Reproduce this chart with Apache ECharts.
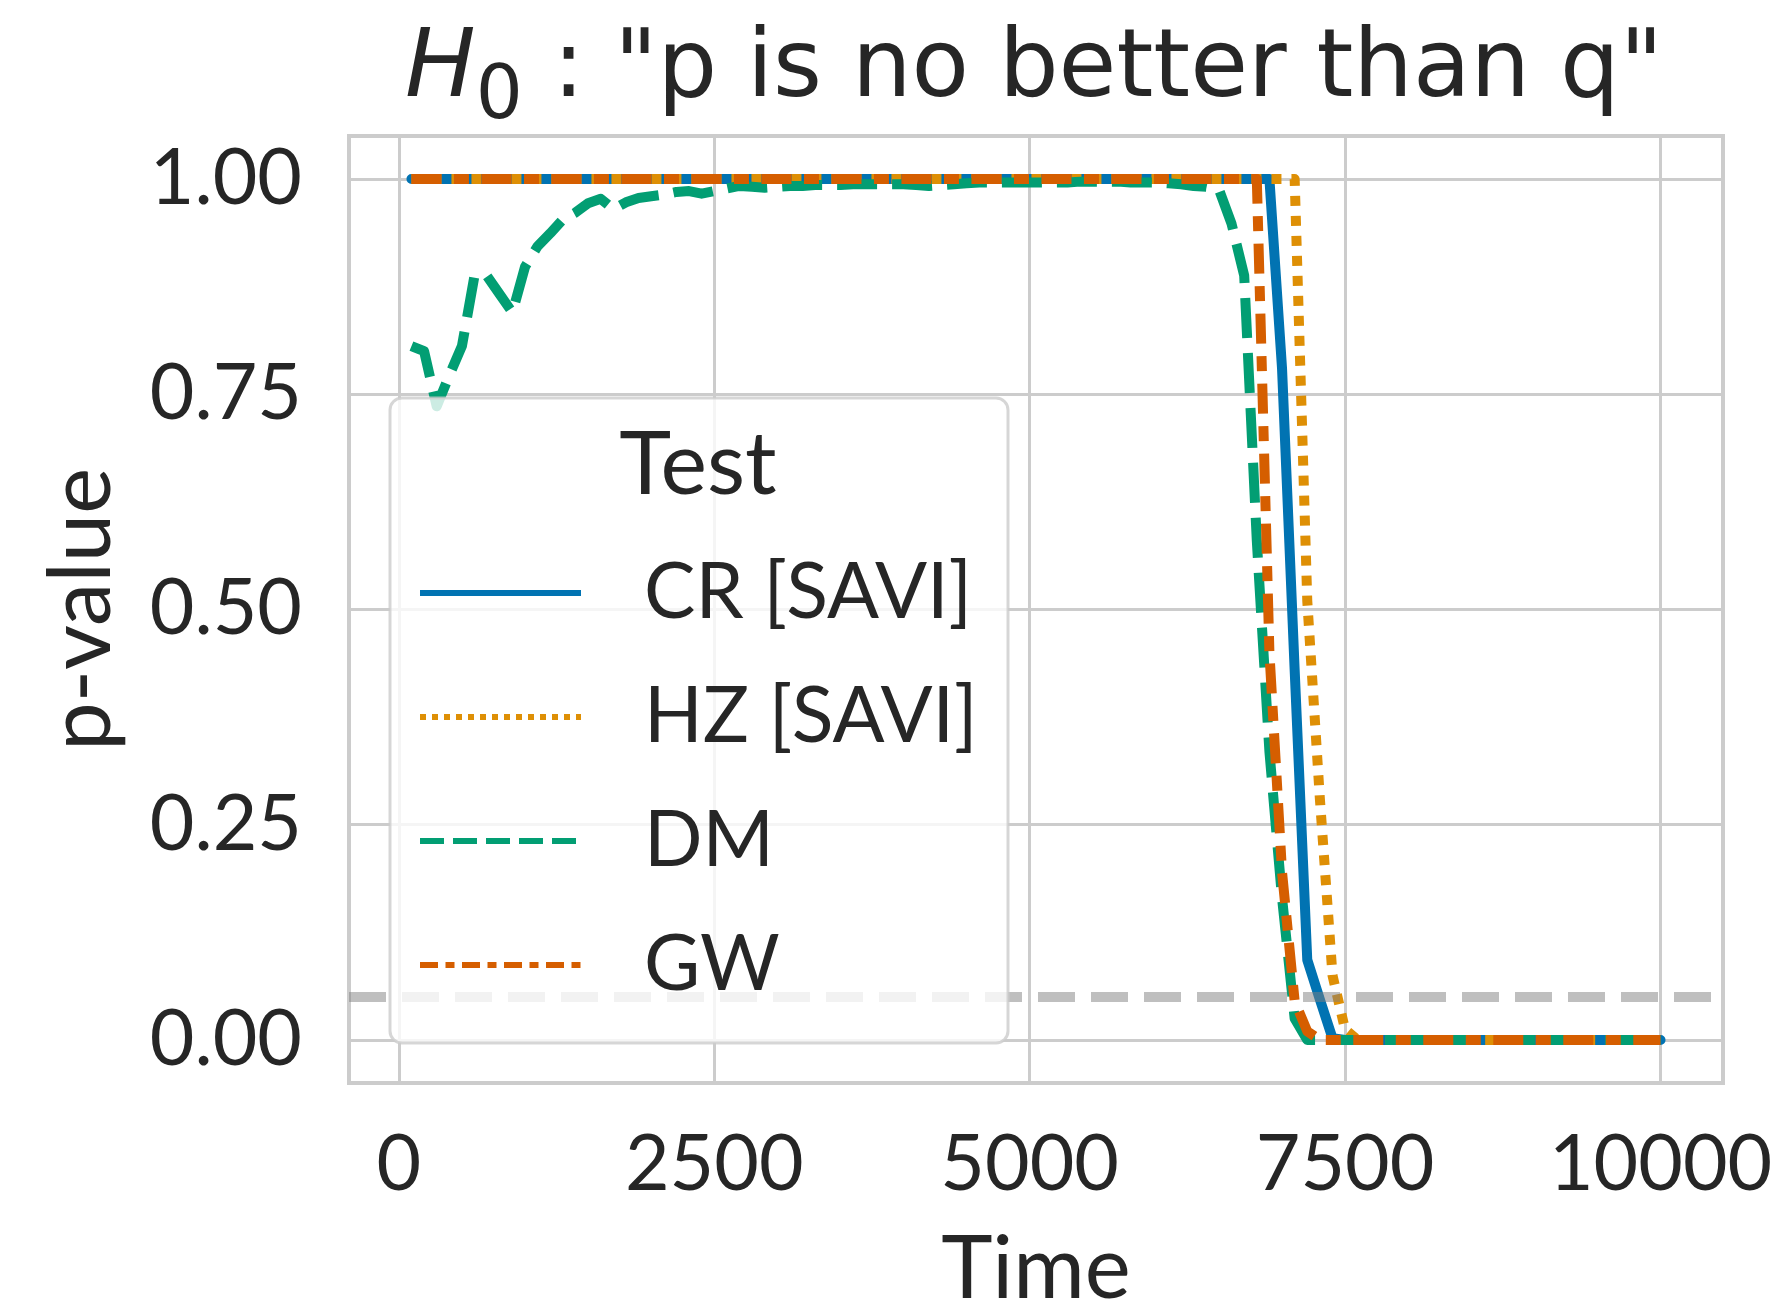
<!DOCTYPE html>
<html>
<head>
<meta charset="utf-8">
<script src="https://cdn.jsdelivr.net/npm/echarts@6/dist/echarts.min.js"></script>
<style>
html,body{margin:0;padding:0;background:#fff;}
#chart{width:1788px;height:1303px;}
</style>
</head>
<body>
<div id="chart"></div>
<script>
// ---- data ----
const times = [100,200,300,400,500,600,700,800,900,1000,1100,1200,1300,1400,1500,1600,1700,1800,1900,2000,
2100,2200,2300,2400,2500,2600,2700,2800,2900,3000,3100,3200,3300,3400,3500,3600,3700,3800,3900,4000,
4100,4200,4300,4400,4500,4600,4700,4800,4900,5000,5100,5200,5300,5400,5500,5600,5700,5800,5900,6000,
6100,6200,6300,6400,6500,6600,6700,6800,6900,7000,7100,7200,7300,7400,7500,7600,7700,7800,7900,8000,
8100,8200,8300,8400,8500,8600,8700,8800,8900,9000,9100,9200,9300,9400,9500,9600,9700,9800,9900,10000];

const crValues = [1,1,1,1,1,1,1,1,1,1, 1,1,1,1,1,1,1,1,1,1,
1,1,1,1,1,1,1,1,1,1, 1,1,1,1,1,1,1,1,1,1,
1,1,1,1,1,1,1,1,1,1, 1,1,1,1,1,1,1,1,1,1,
1,1,1,1,1,1,1,1,1,0.78, 0.43,0.093,0.047,0.002,0,0,0,0,0,0,
0,0,0,0,0,0,0,0,0,0, 0,0,0,0,0,0,0,0,0,0];

const hzValues = [1,1,1,1,1,1,1,1,1,1, 1,1,1,1,1,1,1,1,1,1,
1,1,1,1,1,1,1,1,1,1, 1,1,1,1,1,1,1,1,1,1,
1,1,1,1,1,1,1,1,1,1, 1,1,1,1,1,1,1,1,1,1,
1,1,1,1,1,1,1,1,1,1, 1,0.51,0.28,0.075,0.012,0,0,0,0,0,
0,0,0,0,0,0,0,0,0,0, 0,0,0,0,0,0,0,0,0,0];

const dmValues = [0.806,0.800,0.736,0.772,0.806,0.888,0.887,0.866,0.845,0.898,
0.922,0.937,0.953,0.961,0.972,0.977,0.965,0.973,0.978,0.980,
0.982,0.985,0.986,0.983,0.986,0.989,0.992,0.991,0.990,0.991,
0.992,0.992,0.993,0.993,0.993,0.994,0.994,0.994,0.994,0.994,
0.993,0.992,0.993,0.994,0.995,0.996,0.996,0.996,0.996,0.996,
0.996,0.996,0.996,0.997,0.997,0.997,0.997,0.996,0.996,0.996,
0.995,0.994,0.992,0.991,0.988,0.948,0.888,0.58,0.335,0.165,
0.025,0,0,0,0,0,0,0,0,0, 0,0,0,0,0,0,0,0,0,0, 0,0,0,0,0,0,0,0,0,0];

const gwValues = [1,1,1,1,1,1,1,1,1,1, 1,1,1,1,1,1,1,1,1,1,
1,1,1,1,1,1,1,1,1,1, 1,1,1,1,1,1,1,1,1,1,
1,1,1,1,1,1,1,1,1,1, 1,1,1,1,1,1,1,1,1,1,
1,1,1,1,1,1,1,1,0.45,0.195, 0.045,0.01,0,0,0,0,0,0,0,0,
0,0,0,0,0,0,0,0,0,0, 0,0,0,0,0,0,0,0,0,0];

const seriesNames = ['CR [SAVI]','HZ [SAVI]','DM','GW'];
const xTicks = [0,2500,5000,7500,10000];
const yTicks = [0,0.25,0.5,0.75,1.0];
const threshold = 0.05;

// ---- styles ----
const FONT = 'Lato';
const TITLE_FONT = 'DejaVu Sans';
const TXT = '#262626';
const colors = ['#0173b2','#de8f05','#029e73','#d55e00'];
const mainDash = ['solid',[10,10],[40,15],[30,12.5,15,12.5]];
const legendDash = ['solid',[6,6],[24,9],[18,7.5,9,7.5]];
const allValues = [crValues,hzValues,dmValues,gwValues];

const series = seriesNames.map((n,i)=>({
  name:n, type:'line', symbol:'none', z:2,
  data: times.map((t,k)=>[t, allValues[i][k]]),
  lineStyle:{color:colors[i], width:10, type:mainDash[i], cap: i===0?'round':'butt', join:'round'},
  itemStyle:{color:colors[i]},
  emphasis:{disabled:true}, animation:false
}));
series.push({
  type:'line', data:[], symbol:'none', z:3, animation:false, silent:true,
  markLine:{symbol:'none', silent:true, label:{show:false},
    lineStyle:{color:'rgba(128,128,128,0.5)', width:10, type:[37,16]},
    data:[{yAxis:threshold}], animation:false}
});

const chart = echarts.init(document.getElementById('chart'), null, {renderer:'canvas'});
chart.setOption({
  backgroundColor:'#fff',
  animation:false,
  textStyle:{fontFamily:FONT},
  title:{
    left:405, top:8, padding:0,
    text:'{h|H}{s|0}{n| : "p is no better than q"}',
    textStyle:{
      fontWeight:'normal',
      rich:{
        h:{fontFamily:TITLE_FONT, fontStyle:'italic', fontWeight:'normal', fontSize:94, color:TXT, lineHeight:128, verticalAlign:'middle'},
        s:{fontFamily:TITLE_FONT, fontWeight:'normal', fontSize:74, color:TXT, lineHeight:72, verticalAlign:'bottom'},
        n:{fontFamily:TITLE_FONT, fontWeight:'normal', fontSize:94, color:TXT, lineHeight:128, verticalAlign:'middle'}
      }
    }
  },
  grid:{left:349, top:136, width:1374, height:947, show:true, borderColor:'#cccccc', borderWidth:4,
        backgroundColor:'transparent', containLabel:false, outerBoundsMode:'none'},
  xAxis:{
    type:'value', min:-395, max:10495,
    name:'Time', nameLocation:'middle', nameGap:143,
    nameTextStyle:{fontFamily:FONT, fontSize:87, color:TXT},
    axisLine:{show:false},
    axisTick:{show:false, customValues:xTicks},
    axisLabel:{customValues:xTicks, fontFamily:FONT, fontSize:77, color:TXT, margin:44, formatter:v=>String(v)},
    splitLine:{show:true, lineStyle:{color:'#cccccc', width:3}}
  },
  yAxis:{
    type:'value', min:-0.05, max:1.05,
    name:'p-value', nameLocation:'middle', nameGap:224, nameRotate:90,
    nameTextStyle:{fontFamily:FONT, fontSize:87, color:TXT},
    axisLine:{show:false},
    axisTick:{show:false, customValues:yTicks},
    axisLabel:{customValues:yTicks, fontFamily:FONT, fontSize:77, color:TXT, margin:47, padding:[12,0,0,0], formatter:v=>v.toFixed(2)},
    splitLine:{show:true, lineStyle:{color:'#cccccc', width:3}}
  },
  legend:{
    orient:'vertical', left:417, top:553, padding:0, z:10,
    itemWidth:161, itemHeight:40, itemGap:44,
    textStyle:{fontFamily:FONT, fontSize:77, color:TXT, lineHeight:80, padding:[0,0,0,58]},
    data: seriesNames.map((n,i)=>({name:n,
      itemStyle:{opacity:0},
      lineStyle:{width:6, type:legendDash[i], color:colors[i], cap:'butt'}})),
    selectedMode:false
  },
  graphic:[
    {type:'rect', z:8, silent:true, shape:{x:390, y:398, width:618, height:645, r:12},
     style:{fill:'rgba(255,255,255,0.8)', stroke:'rgba(204,204,204,0.8)', lineWidth:3}},
    {type:'text', z:11, silent:true, x:698, y:466,
     style:{text:'Test', fontFamily:FONT, fontSize:88, fill:TXT, align:'center', verticalAlign:'middle'}}
  ],
  series: series
});
</script>
</body>
</html>
